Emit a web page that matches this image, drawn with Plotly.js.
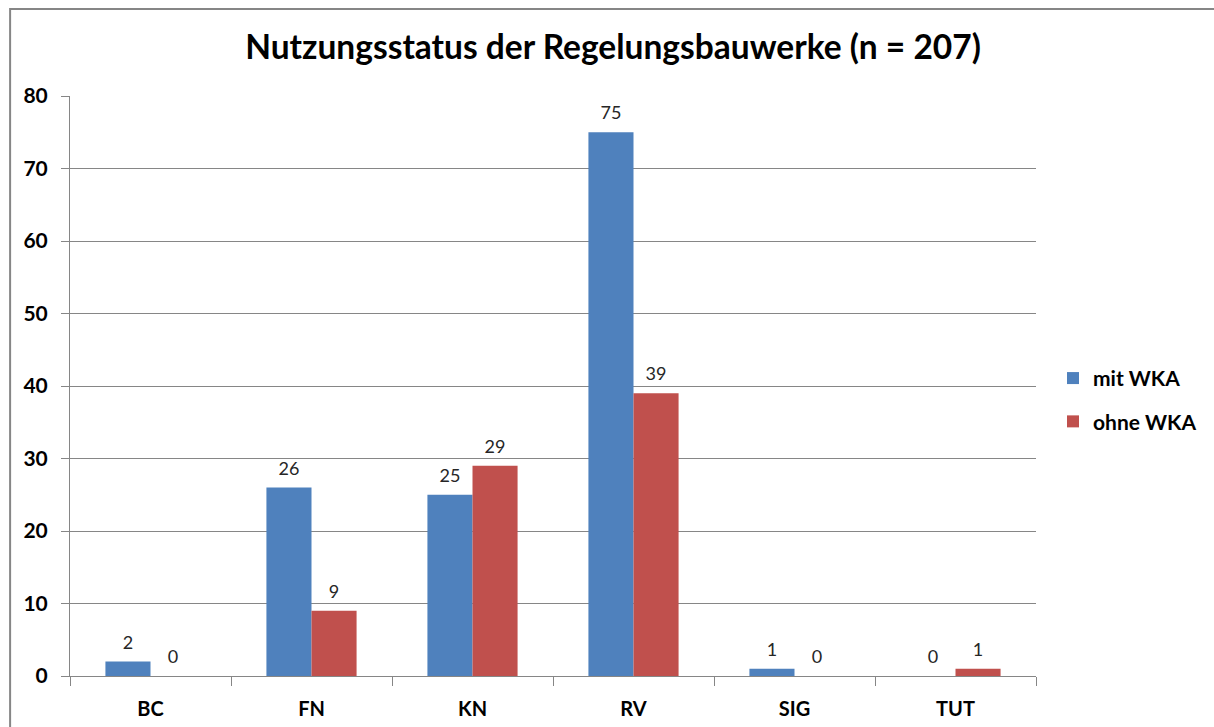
<!DOCTYPE html>
<html>
<head>
<meta charset="utf-8">
<script src="https://cdn.plot.ly/plotly-3.0.1.min.js"></script>
<style>
  html, body { margin: 0; padding: 0; background: #ffffff; }
  #chart { width: 1214px; height: 727px; }
</style>
</head>
<body>
<div id="chart"></div>
<script>
const categories = ["BC", "FN", "KN", "RV", "SIG", "TUT"];
const mitWKA = [2, 26, 25, 75, 1, 0];
const ohneWKA = [0, 9, 29, 39, 0, 1];
const seriesNames = ["mit WKA", "ohne WKA"];
const seriesColors = ["#4F81BD", "#C0504D"];
const yTicks = [0, 10, 20, 30, 40, 50, 60, 70, 80];

const FONT = "Lato, 'Open Sans', sans-serif";
const labelFont = { family: FONT, size: 18, color: "#262626" };

const seriesValues = [mitWKA, ohneWKA];
const traces = [];
seriesValues.forEach((vals, i) => {
  traces.push({
    type: "bar", name: seriesNames[i], x: categories, y: vals,
    marker: { color: seriesColors[i] },
    legendgroup: "g" + i, offsetgroup: "o" + i, hoverinfo: "x+y+name"
  });
});
seriesValues.forEach((vals, i) => {
  traces.push({
    type: "scatter", mode: "markers+text", x: categories, y: vals,
    text: vals.map(String), textposition: "top center", textfont: labelFont,
    marker: { size: 12, opacity: 0, color: seriesColors[i] },
    offsetgroup: "o" + i, showlegend: false, cliponaxis: false, hoverinfo: "skip"
  });
});

const layout = {
  width: 1214, height: 727,
  margin: { l: 70, r: 176, t: 96, b: 51 },
  paper_bgcolor: "#ffffff", plot_bgcolor: "#ffffff",
  font: { family: FONT, color: "#000000" },
  title: {
    text: "<b>Nutzungsstatus der Regelungsbauwerke (n = 207)</b>",
    font: { family: FONT, size: 33.5, color: "#000000" },
    x: 0.505, xanchor: "center", y: 0.935, yanchor: "middle"
  },
  barmode: "group", bargap: 0.44, bargroupgap: 0,
  scattermode: "group", scattergap: 0.44,
  xaxis: {
    type: "category", showgrid: false, showline: true, linecolor: "#868686", linewidth: 1,
    ticks: "outside", tickson: "boundaries", ticklen: 9, tickcolor: "#868686",
    tickfont: { family: FONT, size: 20, color: "#000000", weight: "bold" },
    ticklabelstandoff: 15
  },
  yaxis: {
    range: [0, 80], tickvals: yTicks, ticktext: yTicks.map(String),
    showgrid: true, gridcolor: "#868686", gridwidth: 1,
    showline: true, linecolor: "#868686", linewidth: 1,
    ticks: "outside", ticklen: 8, tickcolor: "#868686",
    tickfont: { family: FONT, size: 21, color: "#000000", weight: "bold" },
    ticklabelstandoff: 9, zeroline: false
  },
  legend: {
    x: 1.0176, xanchor: "left", y: 0.476, yanchor: "middle",
    font: { family: FONT, size: 21, color: "#000000", weight: "bold" },
    traceorder: "grouped", tracegroupgap: 13, itemwidth: 30
  },
  showlegend: true,
  shapes: [
    {
      type: "path", xref: "paper", yref: "paper",
      path: "M -0.062 -0.2 L -0.062 1.15 L 1.25 1.15",
      line: { color: "#868686", width: 2 }
    }
  ]
};

Plotly.newPlot("chart", traces, layout, { displayModeBar: false, staticPlot: true });
</script>
</body>
</html>
